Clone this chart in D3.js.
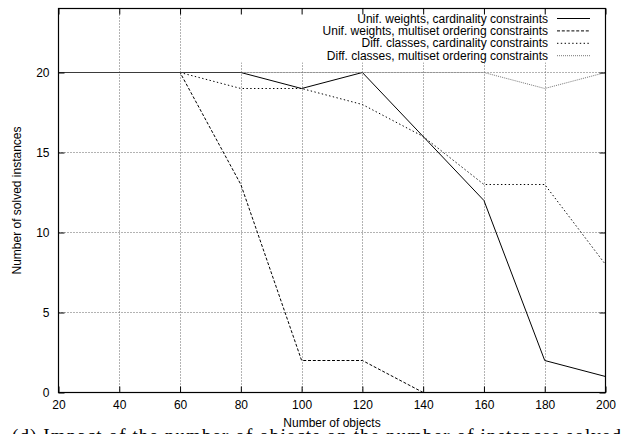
<!DOCTYPE html>
<html>
<head>
<meta charset="utf-8">
<script src="https://cdn.jsdelivr.net/npm/d3@7"></script>
<style>
  body { margin: 0; background: #fff; }
  svg { display: block; font-family: "Liberation Sans", Arial, sans-serif; }
</style>
</head>
<body>
<div id="chart"></div>
<script>
// number of objects (x)
const objects = [20, 40, 60, 80, 100, 120, 140, 160, 180, 200]

// solved instances per configuration
const unifCard = [20, 20, 20, 20, 19, 20, 16, 12, 2, 1]
const unifMulti = [20, 20, 20, 13, 2, 2, 0, 0, 0, 0]
const diffCard = [20, 20, 20, 19, 19, 18, 16, 13, 13, 8]
const diffMulti = [20, 20, 20, 20, 20, 20, 20, 20, 19, 20]

const seriesNames = [
  'Unif. weights, cardinality constraints',
  'Unif. weights, multiset ordering constraints',
  'Diff. classes, cardinality constraints',
  'Diff. classes, multiset ordering constraints'
]

const xTicks = [20, 40, 60, 80, 100, 120, 140, 160, 180, 200]
const yTicks = [0, 5, 10, 15, 20]

const width = 627
const height = 434
const plotL = 58.5, plotR = 605.5, plotT = 8.5, plotB = 392.5

const styles = [
  { dash: null, color: '#000' },
  { dash: '3,1.8', color: '#000' },
  { dash: '1.4,2.4', color: '#000' },
  { dash: '1,1', color: '#777' }
]

const svg = d3.select('#chart').append('svg')
  .attr('width', width)
  .attr('height', height)

const x = d3.scaleLinear().domain([20, 200]).range([plotL, plotR])
const y = d3.scaleLinear().domain([0, 24]).range([plotB, plotT])

// grid
const grid = svg.append('g')
  .attr('stroke', '#666')
  .attr('stroke-dasharray', '1,2')
  .attr('stroke-width', 1)

grid.selectAll('.vg')
  .data(xTicks.filter(d => d > 20 && d < 200))
  .join('line')
  .attr('x1', d => Math.round(x(d)) + 0.5)
  .attr('x2', d => Math.round(x(d)) + 0.5)
  .attr('y1', plotT)
  .attr('y2', plotB)

grid.selectAll('.hg')
  .data(yTicks.filter(d => d > 0))
  .join('line')
  .attr('y1', d => y(d))
  .attr('y2', d => y(d))
  .attr('x1', plotL)
  .attr('x2', plotR)

// key area knocks out the grid
svg.append('rect')
  .attr('x', 205)
  .attr('y', plotT + 1)
  .attr('width', plotR - 206)
  .attr('height', 53)
  .attr('fill', '#fff')

// data lines
const series = [unifCard, unifMulti, diffCard, diffMulti]
const line = d3.line()
  .x((d, i) => x(objects[i]))
  .y(d => y(d))

svg.append('g')
  .selectAll('path')
  .data(series)
  .join('path')
  .attr('d', d => line(d))
  .attr('fill', 'none')
  .attr('stroke', (d, i) => styles[i].color)
  .attr('stroke-width', 1)
  .attr('stroke-dasharray', (d, i) => styles[i].dash)

// axes, ticks point inwards
const axisFont = g => {
  g.select('.domain').remove()
  g.selectAll('text')
    .attr('font-size', 12)
    .attr('font-family', '"Liberation Sans", Arial, sans-serif')
    .attr('fill', '#000')
  g.selectAll('line').attr('stroke', '#000')
}

svg.append('g')
  .attr('transform', `translate(0,${plotB})`)
  .call(d3.axisBottom(x).tickValues(xTicks).tickSize(-6).tickPadding(8))
  .call(axisFont)

svg.append('g')
  .attr('transform', `translate(${plotL},0)`)
  .call(d3.axisLeft(y).tickValues(yTicks).tickSize(-6).tickPadding(9))
  .call(axisFont)

svg.append('g')
  .attr('transform', `translate(0,${plotT})`)
  .call(d3.axisTop(x).tickValues(xTicks).tickSize(-6).tickFormat(''))
  .call(axisFont)

svg.append('g')
  .attr('transform', `translate(${plotR},0)`)
  .call(d3.axisRight(y).tickValues(yTicks).tickSize(-6).tickFormat(''))
  .call(axisFont)

// frame
svg.append('rect')
  .attr('x', plotL)
  .attr('y', plotT)
  .attr('width', plotR - plotL)
  .attr('height', plotB - plotT)
  .attr('fill', 'none')
  .attr('stroke', '#000')
  .attr('stroke-width', 1.2)

// key
const key = svg.append('g')
  .selectAll('g')
  .data(seriesNames)
  .join('g')
  .attr('transform', (d, i) => `translate(0,${18.5 + i * 12.4})`)

key.append('text')
  .attr('x', 548)
  .attr('y', 4)
  .attr('text-anchor', 'end')
  .attr('font-size', 12)
  .text(d => d)

key.append('line')
  .attr('x1', 557)
  .attr('x2', 590)
  .attr('stroke', (d, i) => styles[i].color)
  .attr('stroke-dasharray', (d, i) => styles[i].dash)

// axis titles
svg.append('text')
  .attr('x', (plotL + plotR) / 2)
  .attr('y', 427)
  .attr('text-anchor', 'middle')
  .attr('font-size', 12)
  .text('Number of objects')

svg.append('text')
  .attr('transform', `translate(21,${(plotT + plotB) / 2}) rotate(-90)`)
  .attr('text-anchor', 'middle')
  .attr('font-size', 12)
  .text('Number of solved instances')

// caption, cut off by the bottom edge
svg.append('text')
  .attr('x', 12)
  .attr('y', 442)
  .attr('font-family', '"Liberation Serif", "Times New Roman", serif')
  .attr('font-size', 19)
  .attr('textLength', 609)
  .attr('lengthAdjust', 'spacing')
  .text('(d) Impact of the number of objects on the number of instances solved')
</script>
</body>
</html>
